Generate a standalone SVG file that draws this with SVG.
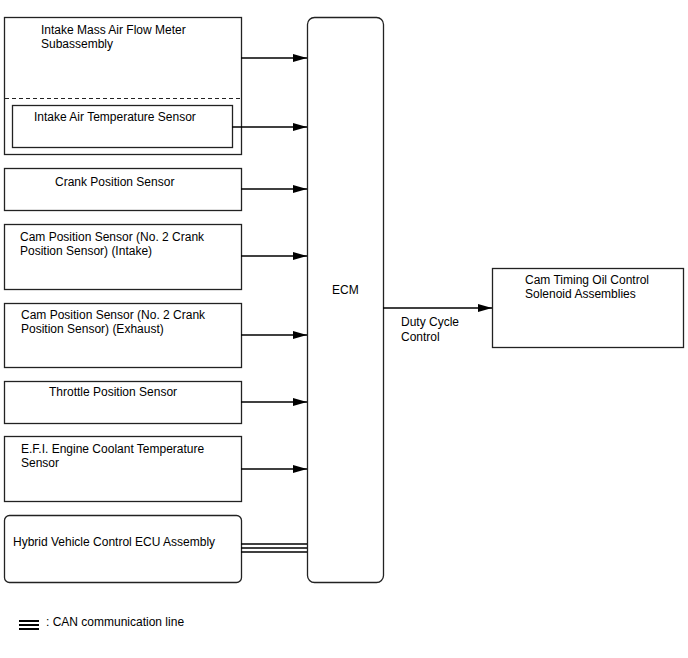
<svg xmlns="http://www.w3.org/2000/svg" width="688" height="658" viewBox="0 0 688 658">
<defs>
<marker id="ah" markerWidth="14" markerHeight="8" refX="14" refY="4" orient="auto" markerUnits="userSpaceOnUse">
<path d="M0,0 L14,4 L0,8 Z" fill="#000"/>
</marker>
<style>
.box{fill:#fff;stroke:#222;stroke-width:1.3}
.t{font-family:"Liberation Sans",Arial,sans-serif;font-size:12px;fill:#000}
.c{stroke:#000;stroke-width:1.3;fill:none}
</style>
</defs>
<rect width="688" height="658" fill="#fff"/>
<g id="maf">
<rect class="box" x="4.5" y="17.5" width="237" height="137"/>
<line x1="5" y1="98.5" x2="241" y2="98.5" stroke="#222" stroke-width="1.2" stroke-dasharray="4,3"/>
<text class="t" x="41" y="34">Intake Mass Air Flow Meter</text>
<text class="t" x="41" y="48">Subassembly</text>
</g>
<g id="iat">
<rect class="box" x="12.5" y="105.5" width="220" height="42"/>
<text class="t" x="34" y="121">Intake Air Temperature Sensor</text>
</g>
<g id="crank">
<rect class="box" x="4.5" y="168.5" width="237" height="42"/>
<text class="t" x="55" y="186">Crank Position Sensor</text>
</g>
<g id="camIn">
<rect class="box" x="4.5" y="224.5" width="237" height="65"/>
<text class="t" x="20" y="241">Cam Position Sensor (No. 2 Crank</text>
<text class="t" x="20" y="255">Position Sensor) (Intake)</text>
</g>
<g id="camEx">
<rect class="box" x="4.5" y="303.5" width="237" height="64"/>
<text class="t" x="21" y="319">Cam Position Sensor (No. 2 Crank</text>
<text class="t" x="21" y="333">Position Sensor) (Exhaust)</text>
</g>
<g id="tps">
<rect class="box" x="4.5" y="381.5" width="237" height="42"/>
<text class="t" x="49" y="396">Throttle Position Sensor</text>
</g>
<g id="ect">
<rect class="box" x="4.5" y="436.5" width="237" height="65"/>
<text class="t" x="21" y="453">E.F.I. Engine Coolant Temperature</text>
<text class="t" x="21" y="467">Sensor</text>
</g>
<g id="hv">
<rect class="box" x="4.5" y="515.5" width="237" height="67" rx="5"/>
<text class="t" x="13" y="546">Hybrid Vehicle Control ECU Assembly</text>
</g>
<g id="ecm">
<rect class="box" x="307.5" y="17.5" width="76" height="565" rx="7"/>
<text class="t" x="332" y="294">ECM</text>
</g>
<g id="ocv">
<rect class="box" x="492.5" y="268.5" width="191" height="79"/>
<text class="t" x="525" y="284">Cam Timing Oil Control</text>
<text class="t" x="525" y="298">Solenoid Assemblies</text>
</g>
<g id="connectors">
<line class="c" x1="241" y1="58" x2="307" y2="58" marker-end="url(#ah)"/>
<line class="c" x1="232" y1="127" x2="307" y2="127" marker-end="url(#ah)"/>
<line class="c" x1="241" y1="189" x2="307" y2="189" marker-end="url(#ah)"/>
<line class="c" x1="241" y1="256" x2="307" y2="256" marker-end="url(#ah)"/>
<line class="c" x1="241" y1="335" x2="307" y2="335" marker-end="url(#ah)"/>
<line class="c" x1="241" y1="402" x2="307" y2="402" marker-end="url(#ah)"/>
<line class="c" x1="241" y1="469" x2="307" y2="469" marker-end="url(#ah)"/>
<line class="c" x1="241" y1="544" x2="307" y2="544"/>
<line class="c" x1="241" y1="548" x2="307" y2="548"/>
<line class="c" x1="241" y1="552" x2="307" y2="552"/>
<line class="c" x1="383" y1="308" x2="492" y2="308" marker-end="url(#ah)"/>
<text class="t" x="401" y="326">Duty Cycle</text>
<text class="t" x="401" y="341">Control</text>
</g>
<g id="legend">
<line x1="19" y1="621" x2="39" y2="621" stroke="#000" stroke-width="2"/>
<line x1="19" y1="625" x2="39" y2="625" stroke="#000" stroke-width="2"/>
<line x1="19" y1="629" x2="39" y2="629" stroke="#000" stroke-width="2"/>
<text class="t" x="46" y="626">: CAN communication line</text>
</g>
</svg>
